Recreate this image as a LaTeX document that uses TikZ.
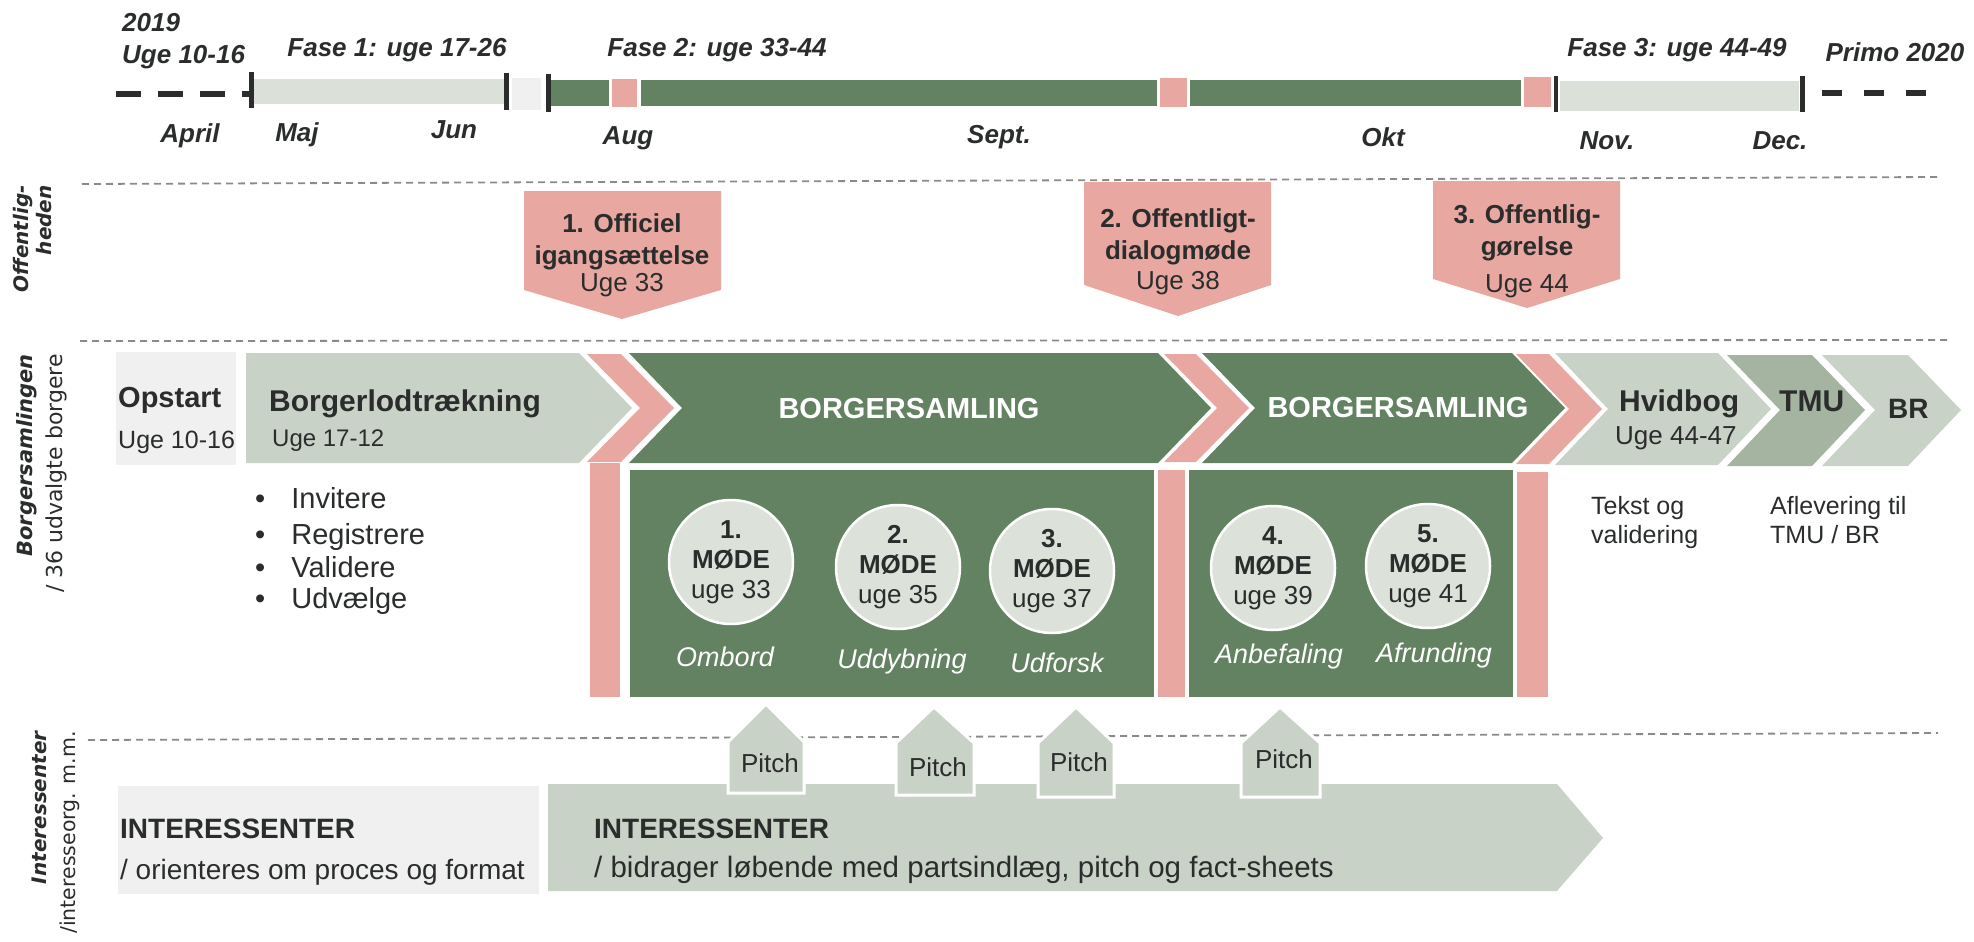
\documentclass[tikz,border=0pt]{standalone}
\usepackage{fontspec}
\setmainfont{Liberation Sans}
\newfontfamily\sidefont{DejaVu Sans}
\newcommand{\fsz}[2]{\fontsize{#1}{#2}\selectfont}
\definecolor{ink}{HTML}{2B2D2D}
\definecolor{forest}{HTML}{638262}
\definecolor{rose}{HTML}{E8A8A1}
\definecolor{sage}{HTML}{C9D2C7}
\definecolor{sagedark}{HTML}{A4B4A0}
\definecolor{barlight}{HTML}{DBE0D9}
\definecolor{mist}{HTML}{DCE1DA}
\definecolor{paper}{HTML}{F0F0F0}
\definecolor{rule}{HTML}{8A8A8A}
\begin{document}
\begin{tikzpicture}[x=1pt,y=-1pt,
  every node/.style={inner sep=0pt,text=ink},
  toplabel/.style={anchor=base,font=\fsz{26}{30}\bfseries\itshape},
  tickmark/.style={draw=ink,line width=5pt},
  rowline/.style={draw=rule,line width=1.8pt,dash pattern=on 7pt off 5pt},
  markertext/.style={anchor=north,align=center,font=\fsz{26}{32}},
  headtext/.style={anchor=base west,font=\fsz{29}{32}\bfseries},
  subtext/.style={anchor=base west,font=\fsz{25}{28}},
  moede/.style={circle,fill=mist,draw=white,line width=2.5pt,minimum size=124pt,align=center,font=\fsz{26}{30}},
  moedecap/.style={anchor=base,text=white,font=\fsz{27}{30}\itshape},
  listtext/.style={anchor=base west,font=\fsz{29}{32}},
  pitchhouse/.style={fill=sage,draw=white,line width=3pt},
  sidelabel/.style={rotate=90,anchor=east,align=right}]

  \useasboundingbox (0,0) rectangle (1974,942);

  % tidslinje
  \draw[ink,line width=6pt,dash pattern=on 25pt off 17pt] (116,94) -- (250,94);
  \fill[barlight] (253,79) rectangle (504,104);
  \fill[paper] (512,78) rectangle (541,110);
  \fill[forest] (551,80) rectangle (609,106);
  \fill[rose] (612,79) rectangle (637,107);
  \fill[forest] (641,80) rectangle (1157,106);
  \fill[rose] (1160,78) rectangle (1187,107);
  \fill[forest] (1190,80) rectangle (1521,106);
  \fill[rose] (1524,77) rectangle (1551,107);
  \fill[barlight] (1560,81) rectangle (1799,111);
  \draw[tickmark] (251,72) -- (251,108);
  \draw[tickmark] (506,73) -- (506,110);
  \draw[tickmark] (548,74) -- (548,112);
  \draw[tickmark,line width=3.5pt] (1556,76) -- (1556,112);
  \draw[tickmark] (1802,76) -- (1802,112);
  \draw[ink,line width=6pt,dash pattern=on 20pt off 22pt] (1822,93) -- (1930,93);

  \node[toplabel,anchor=base west] (y2019) at (122,32) {2019};
  \node[toplabel,anchor=base west] (uge1016) at (122,64) {Uge 10-16};
  \node[toplabel] (fase1) at (397,57) {Fase 1: uge 17-26};
  \node[toplabel] (fase2) at (717,57) {Fase 2: uge 33-44};
  \node[toplabel] (fase3) at (1677,57) {Fase 3: uge 44-49};
  \node[toplabel] (primo) at (1895,62) {Primo 2020};
  \node[toplabel] (april) at (190,142) {April};
  \node[toplabel] (maj) at (297,141) {Maj};
  \node[toplabel] (jun) at (454,139) {Jun};
  \node[toplabel] (aug) at (628,144) {Aug};
  \node[toplabel] (sept) at (999,143) {Sept.};
  \node[toplabel] (okt) at (1383,146) {Okt};
  \node[toplabel] (nov) at (1607,149) {Nov.};
  \node[toplabel] (dec) at (1780,149) {Dec.};

  % skillelinjer
  \draw[rowline] (82,184) -- (1938,177);
  \draw[rowline] (80,341) -- (1949,340);
  \draw[rowline] (88,740) -- (1938,733);

  % offentligheden
  \fill[rose] (524,191) -- (721,191) -- (721,290) -- (622,319) -- (524,290) -- cycle;
  \fill[rose] (1084,182) -- (1271,182) -- (1271,285) -- (1178,316) -- (1084,285) -- cycle;
  \fill[rose] (1433,181) -- (1620,181) -- (1620,279) -- (1527,308) -- (1433,279) -- cycle;
  \node[markertext] (off1) at (622,213) {\textbf{1. Officiel}\\\textbf{igangsættelse}\\[-5pt]Uge 33};
  \node[markertext] (off2) at (1178,208) {\textbf{2. Offentligt-}\\\textbf{dialogmøde}\\[-2pt]Uge 38};
  \node[markertext] (off3) at (1527,204) {\textbf{3. Offentlig-}\\\textbf{gørelse}\\[5pt]Uge 44};

  % borgersamlingen
  \fill[paper] (116,352) rectangle (236,465);
  \fill[sage] (246,353) -- (579,353) -- (632,408) -- (579,463) -- (246,463) -- cycle;
  \fill[rose] (587,354) -- (621,354) -- (674,408) -- (621,462) -- (587,462) -- (640,408) -- cycle;
  \fill[forest] (629,353) -- (1158,353) -- (1211,408) -- (1158,463) -- (629,463) -- (682,408) -- cycle;
  \fill[rose] (1164,354) -- (1196,354) -- (1249,408) -- (1196,462) -- (1164,462) -- (1217,408) -- cycle;
  \fill[forest] (1202,353) -- (1512,353) -- (1565,408) -- (1512,463) -- (1202,463) -- (1255,408) -- cycle;
  \fill[rose] (1516,354) -- (1549,354) -- (1602,409) -- (1549,464) -- (1516,464) -- (1569,409) -- cycle;
  \fill[sage] (1555,353) -- (1718,353) -- (1771,409) -- (1718,465) -- (1555,465) -- (1608,409) -- cycle;
  \fill[sagedark] (1727,355) -- (1812,355) -- (1865,410) -- (1812,466) -- (1727,466) -- (1780,410) -- cycle;
  \fill[sage] (1822,355) -- (1908,355) -- (1961,410) -- (1908,466) -- (1822,466) -- (1875,410) -- cycle;

  \node[headtext] (opstart) at (118,407) {Opstart};
  \node[subtext] (opstartuge) at (118,448) {Uge 10-16};
  \node[headtext,font=\fsz{30}{32}\bfseries] (lodtr) at (269,411) {Borgerlodtrækning};
  \node[subtext,font=\fsz{24}{28}] (lodtruge) at (272,446) {Uge 17-12};
  \node[headtext,anchor=base,text=white] (samling1) at (909,418) {BORGERSAMLING};
  \node[headtext,anchor=base,text=white] (samling2) at (1398,417) {BORGERSAMLING};
  \node[headtext,font=\fsz{30}{32}\bfseries] (hvidbog) at (1619,411) {Hvidbog};
  \node[subtext,font=\fsz{26}{28}] (hvidboguge) at (1615,444) {Uge 44-47};
  \node[headtext,font=\fsz{30}{32}\bfseries] (tmu) at (1779,411) {TMU};
  \node[headtext,font=\fsz{28}{32}\bfseries] (br) at (1888,418) {BR};

  \node[listtext] (l1) at (255,508) {\textbullet\hspace{26pt}Invitere};
  \node[listtext] (l2) at (255,544) {\textbullet\hspace{26pt}Registrere};
  \node[listtext] (l3) at (255,577) {\textbullet\hspace{26pt}Validere};
  \node[listtext] (l4) at (255,608) {\textbullet\hspace{26pt}Udvælge};

  \node[anchor=north west,align=left,font=\fsz{25}{29}] (tekst) at (1591,496) {Tekst og\\validering};
  \node[anchor=north west,align=left,font=\fsz{25}{29}] (aflev) at (1770,496) {Aflevering til\\TMU / BR};

  \fill[rose] (590,463) rectangle (620,697);
  \fill[forest] (630,470) rectangle (1154,697);
  \fill[rose] (1158,470) rectangle (1185,697);
  \fill[forest] (1189,470) rectangle (1513,697);
  \fill[rose] (1517,472) rectangle (1548,697);

  \node[moede] (m1) at (731,562) {\textbf{1.}\\\textbf{MØDE}\\uge 33};
  \node[moede] (m2) at (898,567) {\textbf{2.}\\\textbf{MØDE}\\uge 35};
  \node[moede] (m3) at (1052,571) {\textbf{3.}\\\textbf{MØDE}\\uge 37};
  \node[moede] (m4) at (1273,568) {\textbf{4.}\\\textbf{MØDE}\\uge 39};
  \node[moede] (m5) at (1428,566) {\textbf{5.}\\\textbf{MØDE}\\uge 41};
  \node[moedecap] (c1) at (725,666) {Ombord};
  \node[moedecap] (c2) at (902,668) {Uddybning};
  \node[moedecap] (c3) at (1057,672) {Udforsk};
  \node[moedecap] (c4) at (1279,663) {Anbefaling};
  \node[moedecap] (c5) at (1434,662) {Afrunding};

  % interessenter
  \fill[paper] (118,786) rectangle (539,894);
  \fill[sage] (548,784) -- (1557,784) -- (1603,838) -- (1557,891) -- (548,891) -- cycle;
  \node[headtext,font=\fsz{28}{32}\bfseries] (int1) at (120,838) {INTERESSENTER};
  \node[subtext,font=\fsz{28}{32}] (int1sub) at (120,879) {/ orienteres om proces og format};
  \node[headtext,font=\fsz{28}{32}\bfseries] (int2) at (594,838) {INTERESSENTER};
  \node[subtext,font=\fsz{29.5}{32}] (int2sub) at (594,877) {/ bidrager løbende med partsindlæg, pitch og fact-sheets};

  \draw[pitchhouse] (728,793) -- (728,742) -- (766,704) -- (804,742) -- (804,793) -- cycle;
  \draw[pitchhouse] (896,795) -- (896,743) -- (934,707) -- (974,743) -- (974,795) -- cycle;
  \draw[pitchhouse] (1038,797) -- (1038,743) -- (1076,707) -- (1114,743) -- (1114,797) -- cycle;
  \draw[pitchhouse] (1241,797) -- (1241,743) -- (1280,707) -- (1320,743) -- (1320,797) -- cycle;
  \node[anchor=base,font=\fsz{26}{30}] (p1) at (770,772) {Pitch};
  \node[anchor=base,font=\fsz{26}{30}] (p2) at (938,776) {Pitch};
  \node[anchor=base,font=\fsz{26}{30}] (p3) at (1079,771) {Pitch};
  \node[anchor=base,font=\fsz{26}{30}] (p4) at (1284,768) {Pitch};

  % sidetekster
  \node[sidelabel,font=\sidefont\fsz{20}{23}\bfseries\itshape] (offlab) at (33,185) {Offentlig-\\heden};
  \node[sidelabel,font=\sidefont\fsz{21}{30}] (borglab) at (42,354) {{\bfseries\itshape Borgersamlingen}\\{\fsz{22}{30}/ 36 udvalgte borgere}};
  \node[sidelabel,font=\sidefont\fsz{20}{29}] (intlab) at (56,731) {{\bfseries\itshape Interessenter}\\{\fsz{20.5}{29}/interesseorg. m.m.}};
\end{tikzpicture}
\end{document}
